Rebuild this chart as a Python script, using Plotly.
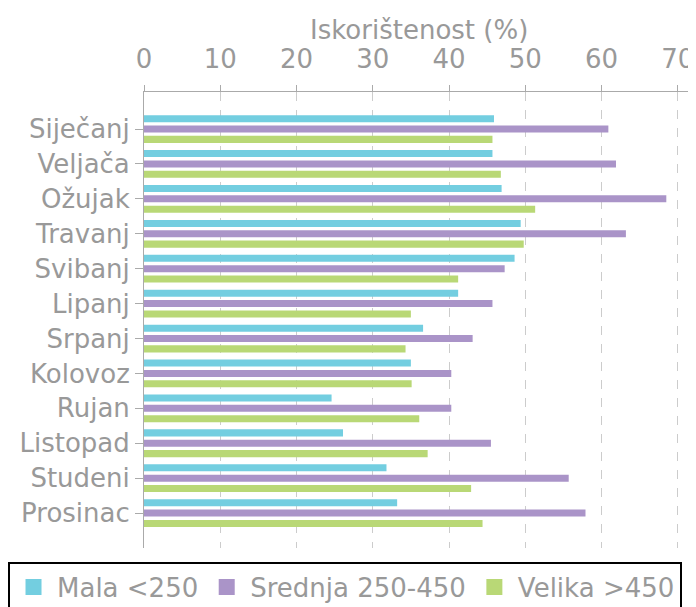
"""Iskorištenost po mjesecima."""

import plotly.graph_objects as go

months = [
    "Siječanj", "Veljača", "Ožujak", "Travanj", "Svibanj", "Lipanj",
    "Srpanj", "Kolovoz", "Rujan", "Listopad", "Studeni", "Prosinac",
]
mala = [45.9, 45.7, 46.9, 49.4, 48.6, 41.2, 36.6, 35.0, 24.6, 26.1, 31.8, 33.2]
srednja = [60.9, 61.9, 68.5, 63.2, 47.3, 45.7, 43.1, 40.3, 40.3, 45.5, 55.7, 57.9]
velika = [45.7, 46.8, 51.3, 49.8, 41.2, 35.0, 34.3, 35.1, 36.1, 37.2, 42.9, 44.4]

series = [
    ("Mala <250", mala, "#73CEE0"),
    ("Srednja 250-450", srednja, "#AA94C8"),
    ("Velika >450", velika, "#B9D876"),
]

grey = "#999999"
font = "DejaVu Sans"

fig = go.Figure()
for name, vals, color in series:
    fig.add_trace(
        go.Bar(
            name=name,
            y=months,
            x=vals,
            orientation="h",
            marker=dict(color=color, line=dict(width=0)),
            showlegend=False,
        )
    )
# legend entries with bigger square swatches
for name, vals, color in series:
    fig.add_trace(
        go.Scatter(
            name=name,
            x=[None],
            y=[None],
            mode="markers",
            marker=dict(symbol="square", size=22, color=color),
        )
    )

# page body has an 8px margin, so the figure is shifted by 8px
fig.update_layout(
    width=696,
    height=607,
    barmode="group",
    bargap=0.11,
    bargroupgap=0.32,
    plot_bgcolor="white",
    paper_bgcolor="white",
    margin=dict(l=136, r=11, t=84, b=67, autoexpand=False),
    font=dict(family=font, size=26, color=grey),
    legend=dict(
        orientation="h",
        x=-0.2477,
        xanchor="left",
        y=-0.030,
        yanchor="top",
        bordercolor="black",
        borderwidth=2,
        font=dict(size=26, color=grey),
        itemwidth=37,
        traceorder="normal",
    ),
    annotations=[
        dict(
            text="Iskorištenost (%)",
            xref="paper",
            yref="paper",
            x=0.5,
            y=1.136,
            xanchor="center",
            yanchor="middle",
            showarrow=False,
            font=dict(size=26, color=grey),
        )
    ],
)
fig.update_xaxes(
    side="top",
    range=[0, 72],
    dtick=10,
    showgrid=True,
    gridcolor="#cccccc",
    griddash="dash",
    gridwidth=1,
    showline=True,
    linecolor="#aaaaaa",
    ticks="outside",
    ticklen=6,
    tickcolor="#aaaaaa",
    ticklabelstandoff=7,
    zeroline=False,
    automargin=False,
)
fig.update_yaxes(
    categoryorder="array",
    categoryarray=months,
    range=[12.0, -1.06],
    showline=True,
    linecolor="#aaaaaa",
    ticks="outside",
    ticklen=8,
    tickcolor="#aaaaaa",
    showgrid=False,
    automargin=False,
)

fig.write_html("out.html")
